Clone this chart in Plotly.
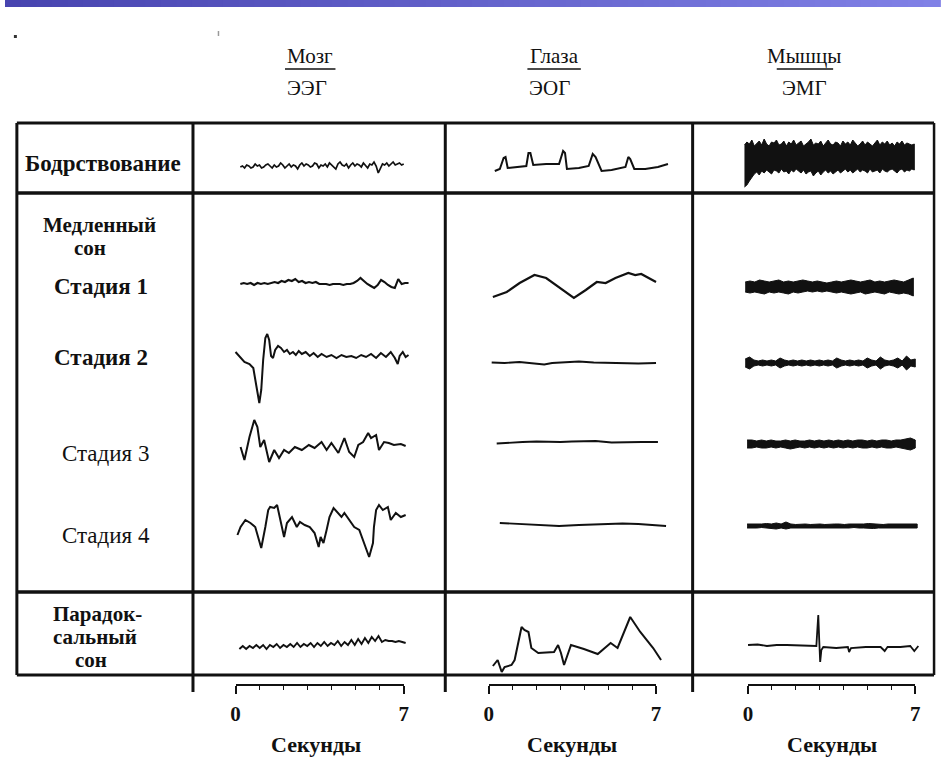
import numpy as np
import plotly.graph_objects as go

# ======================= DATA =======================
# time in seconds, amplitude in relative units (up = positive)

columns = ["Мозг", "Глаза", "Мышцы"]
column_sub = ["ЭЭГ", "ЭОГ", "ЭМГ"]
row_labels = ["Бодрствование", "Медленный", "сон", "Стадия 1", "Стадия 2",
              "Стадия 3", "Стадия 4", "Парадок-", "сальный", "сон"]
scale_ticks = [0, 7]
scale_title = "Секунды"

# ---- EEG (brain) ----
wake_eeg_span = (0.2, 7.0)
wake_eeg = [0, 1, -1, 2, 1, -1, 0, 3, 1, 2, -1, 0, 2, 3, 1, -1, 2, 0, 1, 4,
            2, -1, 1, 3, 0, 2, 1, -2, 2, 4, 1, 3, 2, 0, 1, 4, 3, -1, 2, 1,
            3, 0, 4, 2, 1, -2, 3, 5, 2, 1, 3, -1, 2, 4, 1, 3, 2, 0, 4, 1,
            -1, 3, 2, 5, 1, -6, -2, 3, 2, 4, 1, 3, 5, 2, 3, 4, 2, 3]
s1_eeg_span = (0.2, 7.2)
s1_eeg = [0, 1, 0, 1, -1, 1, 0, 1, 0, 1, 2, 1, 3, 2, 4, 3, 5, 2, 3, 1,
          2, 1, 2, 0, 0, 0, -1, 0, 0, 0, -1, 0, 0, 1, 3, 6, 3, 0, -2, -4,
          -1, 4, 2, -1, -3, -4, 5, 0, 1, 1]
s2_eeg_t = [0.00, 0.16, 0.37, 0.58, 0.74, 0.86, 0.99, 1.07, 1.15, 1.24, 1.32, 1.40,
            1.48, 1.56, 1.65, 1.77, 1.89, 2.02, 2.14, 2.26, 2.39, 2.51, 2.63, 2.76,
            2.92, 3.09, 3.25, 3.42, 3.58, 3.79, 3.99, 4.20, 4.41, 4.61, 4.82, 5.02,
            5.23, 5.43, 5.64, 5.85, 6.05, 6.26, 6.46, 6.63, 6.75, 6.83, 6.96, 7.08, 7.20]
s2_eeg = [3, -1, -7, -9, -13, -30, -48, -35, -5, 17, 21, 15, -1, -3, 5, 9, 7, 3, 5, 1,
          3, 0, 4, 1, 3, -1, 2, -2, 1, -2, 0, -3, 0, -2, -1, -3, 0, -2, 1, -3,
          2, -2, 3, -3, -9, -1, 3, -2, 0]
s3_eeg_t = [0.21, 0.37, 0.58, 0.78, 0.91, 1.03, 1.19, 1.40, 1.61, 1.81, 2.02, 2.22,
            2.47, 2.76, 3.05, 3.29, 3.58, 3.79, 3.99, 4.28, 4.53, 4.73, 4.94, 5.11,
            5.31, 5.52, 5.64, 5.85, 5.97, 6.18, 6.38, 6.59, 6.88, 7.08]
s3_eeg = [3, -10, 13, 30, 23, 3, 10, -12, 0, -8, 0, -3, 3, 0, 5, 2, 8, 0, 7, -3,
          12, -2, -7, 5, 8, 17, 12, 15, 0, 8, 7, 5, 6, 4]
s4_eeg_t = [0.08, 0.21, 0.41, 0.62, 0.82, 0.99, 1.07, 1.24, 1.36, 1.44, 1.61, 1.73,
            1.85, 2.02, 2.14, 2.35, 2.55, 2.68, 2.88, 3.09, 3.29, 3.46, 3.54, 3.66,
            3.79, 3.91, 4.08, 4.28, 4.41, 4.53, 4.73, 4.94, 5.15, 5.35, 5.56, 5.72,
            5.76, 5.85, 5.97, 6.13, 6.34, 6.46, 6.67, 6.88, 7.08]
s4_eeg = [-10, -2, 5, 2, -2, -18, -23, -2, 15, 18, 17, 20, 8, -12, 2, 8, -2, 3, 0, -2,
          -8, -22, -12, -18, -5, 8, 17, 12, 8, 12, 5, -2, -5, -18, -32, -18, -2, 15, 20, 15,
          18, 5, 12, 8, 10]
rem_eeg_span = (0.16, 7.08)
rem_eeg = [-1, 2, -1, 2, 0, 3, 0, 3, -1, 3, 1, 4, 0, 3, 1, 4, 1, 5, 1, 4,
           2, 5, 1, 5, 2, 6, 2, 5, 3, 7, 2, 6, 3, 8, 3, 9, 4, 10, 5, 11,
           7, 12, 6, 8, 7, 7, 6, 7, 6, 5]

# ---- EOG (eyes) ----
wake_eog_t = [0.25, 0.46, 0.62, 0.70, 0.79, 1.16, 1.57, 1.66, 1.74, 1.86, 2.40, 2.94,
              3.11, 3.19, 3.27, 3.77, 4.18, 4.35, 4.47, 4.72, 5.14, 5.72, 5.84, 5.92,
              6.09, 6.55, 7.08, 7.50]
wake_eog = [-3, -1, 10, 11, 0, 1, 2, 15, 15, 3, 4, 4, 17, 15, -1, 0, 2, 14, 11, -3,
            -2, 1, 11, 9, -1, -1, 1, 4]
s1_eog_t = [0.17, 0.75, 1.29, 1.91, 2.40, 2.94, 3.56, 4.06, 4.52, 4.89, 5.30, 5.84,
            6.13, 6.38, 6.67, 7.00]
s1_eog = [-10, -5, 4, 12, 9, 0, -11, -3, 5, 4, 9, 14, 12, 13, 9, 5]
s2_eog_t = [0.12, 0.66, 1.28, 1.91, 2.32, 2.65, 3.15, 3.77, 4.39, 5.01, 5.63, 6.26, 7.00]
s2_eog = [0.5, 0, 1, -0.5, -1.5, 0, 1, 1.5, 0.5, 0, 0, -0.5, 0]
s3_eog_t = [0.33, 0.90, 1.41, 2.00, 2.53, 3.00, 3.48, 4.00, 4.47, 5.14, 5.72, 6.40, 7.08]
s3_eog = [-1.5, -0.5, 0, 0.5, 0, 0, 0.5, 0.5, 1, -0.5, 0, 0, 0]
s4_eog_t = [0.46, 1.00, 1.57, 2.30, 2.94, 3.77, 4.30, 4.89, 5.60, 6.26, 7.00, 7.42]
s4_eog = [1, 0.5, 0, -1, -2, -1, -0.5, 0, 0.5, 0, -1, -2]
rem_eog_t = [0.17, 0.37, 0.54, 0.66, 0.95, 1.08, 1.37, 1.49, 1.66, 1.78, 2.07, 2.73,
             2.90, 3.02, 3.15, 3.44, 3.98, 4.56, 5.10, 5.39, 5.92, 6.34, 6.88, 7.21]
rem_eog = [-18, -12, -24, -19, -17, -12, 21, 18, 16, 0, -5, -4, 3, -5, -17, 3, -1, -6,
           5, 0, 31, 16, 0, -12]

# ---- EMG (muscles): upper / lower envelopes of the dense band ----
wake_emg_span = (-0.15, 6.96)
wake_emg_up = [12, 15, 13, 17, 11, 14, 16, 12, 18, 13, 11, 15, 14, 17, 12, 13, 16, 11, 15, 13,
               17, 12, 14, 16, 11, 13, 15, 18, 12, 14, 13, 16, 11, 14, 17, 13, 12, 15, 14, 11,
               16, 13, 15, 12, 17, 14, 11, 13, 16, 12, 15, 13, 11, 14, 17, 12, 15, 13, 16, 12,
               14, 11, 15, 13, 16, 12, 14, 13, 12, 13]
wake_emg_lo = [-30, -28, -24, -20, -17, -15, -18, -14, -16, -13, -15, -17, -13, -14, -16, -12,
               -15, -14, -17, -13, -15, -12, -14, -16, -13, -17, -15, -14, -19, -16, -14, -18,
               -15, -13, -16, -14, -17, -15, -13, -16, -14, -12, -15, -13, -16, -14, -12, -15,
               -13, -14, -16, -12, -15, -14, -13, -16, -12, -14, -15, -13, -12, -14, -16, -13,
               -12, -15, -13, -14, -12, -13]
s1_emg_span = (-0.12, 6.92)
s1_emg_up = [5, 6, 5, 7, 6, 5, 6, 7, 5, 6, 5, 6, 7, 6, 5, 6, 5, 4, 5, 6, 5, 6, 7, 6, 5, 6,
             7, 5, 6, 5, 6, 7, 6, 5, 7, 9]
s1_emg_lo = [-5, -6, -5, -6, -7, -5, -6, -5, -6, -7, -5, -6, -5, -4, -5, -4, -5, -4, -5, -6,
             -5, -6, -7, -6, -5, -7, -6, -5, -6, -7, -5, -6, -7, -6, -7, -9]
s2_emg_span = (-0.12, 7.0)
s2_emg_up = [4, 6, 3, 2, 3, 2, 3, 2, 5, 3, 2, 3, 2, 3, 2, 3, 2, 3, 2, 3, 2, 5, 3, 2, 3, 2,
             3, 2, 5, 3, 2, 6, 3, 2, 3, 5, 2, 7, 3, 4]
s2_emg_lo = [-4, -6, -3, -2, -3, -2, -3, -2, -5, -3, -2, -3, -2, -3, -2, -3, -2, -3, -2, -3,
             -2, -5, -3, -2, -3, -2, -3, -2, -5, -3, -2, -6, -3, -2, -3, -5, -2, -7, -3, -4]
s3_emg_span = (-0.04, 7.0)
s3_emg_up = [4, 4, 3, 4, 3, 4, 3, 3, 4, 3, 4, 3, 3, 4, 3, 4, 3, 4, 3, 4, 3, 4, 3, 4, 4, 3,
             4, 3, 4, 4, 3, 4, 4, 5, 6, 4]
s3_emg_lo = [-4, -4, -3, -4, -4, -3, -4, -3, -4, -5, -4, -3, -4, -3, -4, -3, -4, -3, -4, -3,
             -4, -3, -4, -3, -4, -4, -3, -4, -3, -4, -4, -3, -4, -5, -6, -4]
s4_emg_span = (-0.04, 7.08)
s4_emg_up = [2, 2, 1.5, 2, 2.5, 2, 3, 2, 4, 2, 1.5, 2, 2, 1.5, 2, 2, 1.5, 2, 2, 2, 1.5, 2,
             2, 1.5, 2, 2.5, 2, 2, 1.5, 2, 2, 2, 1.5, 2, 2, 2]
s4_emg_lo = [-2, -2, -2, -1.5, -2, -2.5, -3, -2, -3, -2, -2, -1.5, -2, -2, -1.5, -2, -2, -2,
             -1.5, -2, -2, -2, -1.5, -2, -2, -2, -2.5, -2, -2, -1.5, -2, -2, -2, -1.5, -2, -2]
rem_emg_t = [0.00, 0.40, 0.79, 1.20, 1.62, 2.00, 2.44, 2.86, 2.90, 2.94, 2.98, 3.02, 3.07,
             3.15, 3.69, 4.18, 4.23, 4.31, 4.93, 5.55, 5.72, 5.84, 6.38, 6.79, 6.96, 7.13]
rem_emg = [0, 0.5, -1, 0, 0, -0.5, -1, -1, 15, 30, 5, -17, -5, -2, -3, -2, -7, -3, -2, -2,
           -6, -2, -2, -1, -6, -1]

# ======================= LAYOUT (positions / styles) =======================
W, H = 944, 778
INK = "#111111"
SERIF = "Liberation Serif"

# scale-bar pixel positions of 0 s and 7 s for each column
scale_px = {"eeg": (233, 403), "eog": (489, 658), "emg": (751, 920)}
bar_y = 685
# baselines (px from top) of each row
base = {"wake": {"eeg": 167, "eog": 168, "emg": 157},
        "s1": {"eeg": 284, "eog": 287, "emg": 287},
        "s2": {"eeg": 355, "eog": 363, "emg": 363},
        "s3": {"eeg": 450, "eog": 442, "emg": 444},
        "s4": {"eeg": 525, "eog": 524, "emg": 526},
        "rem": {"eeg": 648, "eog": 648, "emg": 645}}
axis_of = {"eeg": "x", "eog": "x2", "emg": "x3"}

fig = go.Figure()


def add_line(t, amp, row, col, width=1.8):
    b = base[row][col]
    fig.add_trace(go.Scatter(x=list(t), y=[b - a for a in amp], mode="lines",
                             line=dict(color=INK, width=width),
                             xaxis=axis_of[col], yaxis="y",
                             hoverinfo="skip", showlegend=False))


def add_band(span, up, lo, row, col):
    b = base[row][col]
    t = np.linspace(span[0], span[1], len(up))
    xs = list(t) + list(t[::-1])
    ys = [b - a for a in up] + [b - a for a in lo[::-1]]
    fig.add_trace(go.Scatter(x=xs, y=ys, mode="lines", fill="toself",
                             fillcolor=INK, line=dict(color=INK, width=1),
                             xaxis=axis_of[col], yaxis="y",
                             hoverinfo="skip", showlegend=False))


def span_t(span, vals):
    return np.linspace(span[0], span[1], len(vals))


# EEG
add_line(span_t(wake_eeg_span, wake_eeg), wake_eeg, "wake", "eeg", 1.7)
add_line(span_t(s1_eeg_span, s1_eeg), s1_eeg, "s1", "eeg", 2.1)
add_line(s2_eeg_t, s2_eeg, "s2", "eeg", 2)
add_line(s3_eeg_t, s3_eeg, "s3", "eeg", 2)
add_line(s4_eeg_t, s4_eeg, "s4", "eeg", 2)
add_line(span_t(rem_eeg_span, rem_eeg), rem_eeg, "rem", "eeg", 1.9)
# EOG
add_line(wake_eog_t, wake_eog, "wake", "eog", 2)
add_line(s1_eog_t, s1_eog, "s1", "eog", 2.2)
add_line(s2_eog_t, s2_eog, "s2", "eog", 1.8)
add_line(s3_eog_t, s3_eog, "s3", "eog", 1.8)
add_line(s4_eog_t, s4_eog, "s4", "eog", 1.8)
add_line(rem_eog_t, rem_eog, "rem", "eog", 2)
# EMG
add_band(wake_emg_span, wake_emg_up, wake_emg_lo, "wake", "emg")
add_band(s1_emg_span, s1_emg_up, s1_emg_lo, "s1", "emg")
add_band(s2_emg_span, s2_emg_up, s2_emg_lo, "s2", "emg")
add_band(s3_emg_span, s3_emg_up, s3_emg_lo, "s3", "emg")
add_band(s4_emg_span, s4_emg_up, s4_emg_lo, "s4", "emg")
add_line(rem_emg_t, rem_emg, "rem", "emg", 1.8)

# invisible traces so the three scale-bar axes are drawn
for i in range(3):
    fig.add_trace(go.Scatter(x=scale_ticks, y=[-50, -50], mode="markers",
                             marker=dict(opacity=0), xaxis=f"x{4 + i}", yaxis="y",
                             hoverinfo="skip", showlegend=False))


def data_range(col):
    s0, s1 = scale_px[col]
    pps = (s1 - s0) / 7.0
    return [(0 - s0) / pps, (W - s0) / pps]


def px(x):
    return x / W


def py(y):
    return 1 - y / H


layout_axes = {}
for i, col in enumerate(["eeg", "eog", "emg"]):
    key = "xaxis" if i == 0 else f"xaxis{i + 1}"
    ax = dict(domain=[0, 1], range=data_range(col), visible=False, fixedrange=True)
    if i > 0:
        ax["overlaying"] = "x"
    layout_axes[key] = ax
    s0, s1 = scale_px[col]
    layout_axes[f"xaxis{4 + i}"] = dict(
        domain=[px(s0), px(s1)], range=[0, 7], anchor="free", position=py(bar_y),
        showline=True, linecolor=INK, linewidth=1.6, showgrid=False, zeroline=False,
        ticks="outside", ticklen=8, tickwidth=1.6, tickcolor=INK,
        tickvals=scale_ticks, ticktext=[str(v) for v in scale_ticks],
        tickfont=dict(family=SERIF, size=21, color=INK, weight="bold"),
        ticklabelstandoff=2,
        minor=dict(ticks="outside", ticklen=4, tickwidth=1.4, tickcolor=INK,
                   dtick=1, tick0=0, showgrid=False),
        fixedrange=True)

shapes = []
# top gradient bar
nseg = 60
c0 = np.array([72, 68, 176])
c1 = np.array([128, 129, 230])
for k in range(nseg):
    f = k / (nseg - 1)
    c = (c0 + (c1 - c0) * f).astype(int)
    shapes.append(dict(type="rect", xref="paper", yref="paper",
                       x0=k / nseg, x1=(k + 1) / nseg + 0.002, y0=py(7), y1=1,
                       fillcolor=f"rgb({c[0]},{c[1]},{c[2]})", line=dict(width=0), layer="below"))
# scan specks
shapes.append(dict(type="rect", xref="paper", yref="paper", x0=px(9), x1=px(12),
                   y0=py(38), y1=py(35), fillcolor="#333", line=dict(width=0)))
shapes.append(dict(type="rect", xref="paper", yref="paper", x0=px(215), x1=px(216.5),
                   y0=py(36), y1=py(31), fillcolor="#999", line=dict(width=0)))


def hline(y, x0, x1, w):
    shapes.append(dict(type="line", xref="paper", yref="paper", x0=px(x0), x1=px(x1),
                       y0=py(y), y1=py(y), line=dict(color=INK, width=w)))


def vline(x, y0, y1, w):
    shapes.append(dict(type="line", xref="paper", yref="paper", x0=px(x), x1=px(x),
                       y0=py(y0), y1=py(y1), line=dict(color=INK, width=w)))


tbl_l, tbl_r, tbl_t, tbl_b = 12, 939, 123, 675
hline(tbl_t, tbl_l, tbl_r, 3)
hline(tbl_b, tbl_l, tbl_r, 3)
hline(193, tbl_l, tbl_r, 3.5)
hline(592, tbl_l, tbl_r, 3.5)
vline(tbl_l, tbl_t, tbl_b, 3)
vline(tbl_r, tbl_t, tbl_b, 2.5)
for xv in (190, 445, 695):
    vline(xv, tbl_t, 692, 3)

# header underlines
for (x0, x1) in ((283, 334), (528, 582), (780, 837)):
    hline(69, x0, x1, 1.6)

annotations = []


def text(s, x, y, size, bold=False, xanchor="center", family=SERIF):
    annotations.append(dict(text=s, x=px(x), y=py(y), xref="paper", yref="paper",
                            xanchor=xanchor, yanchor="middle", showarrow=False,
                            font=dict(family=family, size=size, color=INK,
                                      weight="bold" if bold else "normal")))


# column headers
header_pos = [(308, 283), (555, 528), (808, 783)]
for (cx, lx), name, sub in zip(header_pos, columns, column_sub):
    text(name, cx, 56, 21)
    text(sub, lx, 88, 21, xanchor="left")

# row labels
row_pos = [(99, 163, True, 23), (96, 225, True, 21), (86, 248, True, 21),
           (97, 287, True, 23), (97, 357, True, 23), (102, 453, False, 23),
           (102, 535, False, 23), (93, 614, True, 21), (91, 637, True, 21),
           (87, 660, True, 21)]
for lbl, (x, y, b, s) in zip(row_labels, row_pos):
    text(lbl, x, y, s, bold=b)

# "Секунды" under each scale bar
for col in ("eeg", "eog", "emg"):
    s0, s1 = scale_px[col]
    text(scale_title, (s0 + s1) / 2 - 4 + (4 if col != "eeg" else 0), 744, 22, bold=True)

fig.update_layout(
    width=W, height=H, autosize=False,
    margin=dict(l=0, r=0, t=0, b=0, pad=0),
    paper_bgcolor="white", plot_bgcolor="rgba(0,0,0,0)",
    yaxis=dict(domain=[0, 1], range=[H, 0], visible=False, fixedrange=True),
    shapes=shapes, annotations=annotations, showlegend=False,
    **layout_axes,
)

fig.write_html("out.html", config={"displayModeBar": False},
               post_script="document.body.style.margin='0';document.body.style.overflow='hidden';")
